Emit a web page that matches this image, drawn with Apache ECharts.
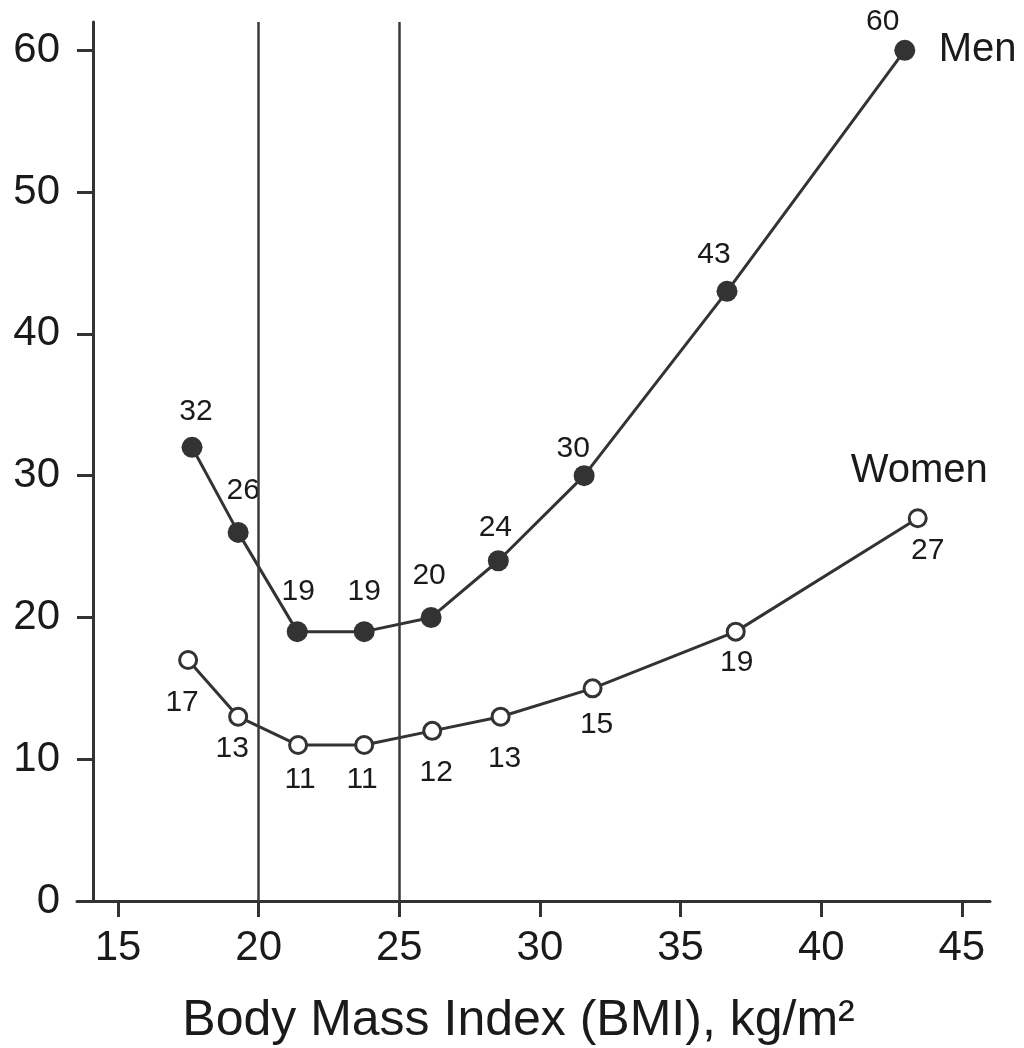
<!DOCTYPE html>
<html>
<head>
<meta charset="utf-8">
<script src="https://cdn.jsdelivr.net/npm/echarts@6/dist/echarts.min.js"></script>
<style>
  html, body { margin: 0; padding: 0; background: #ffffff; }
  #chart { width: 1024px; height: 1048px; }
</style>
</head>
<body>
<div id="chart"></div>
<script>
// Mean BMI of each group and its rate
const bmiMen = [17.63, 19.27, 21.37, 23.75, 26.13, 28.52, 31.57, 36.65, 42.97];
const rateMen = [32, 26, 19, 19, 20, 24, 30, 43, 60];
const bmiWomen = [17.49, 19.27, 21.4, 23.75, 26.17, 28.6, 31.87, 36.96, 43.43];
const rateWomen = [17, 13, 11, 11, 12, 13, 15, 19, 27];
// Tick values on the BMI axis
const bmiTicks = [15, 20, 25, 30, 35, 40, 45];
// Reference BMI bounds drawn as vertical rules
const bmiBounds = [20, 25];
const seriesNames = ['Men', 'Women'];

// Where each value label sits relative to its marker (px)
const menLabelShift = [[4, -36], [5, -42], [1, -40], [0, -40], [-2, -42], [-3, -33], [-11, -27], [-13, -37], [-22, -29]];
const womenLabelShift = [[-6, 43], [-6, 32], [2, 35], [-2, 35], [4, 42], [4, 42], [4, 36], [1, 31], [10, 33]];

const ink = '#333333';
const textInk = '#1a1a1a';
const font = '"Liberation Sans", Arial, Helvetica, sans-serif';

function points(xs, ys, shifts) {
  return xs.map((x, i) => ({
    value: [x, ys[i]],
    label: { offset: shifts[i] }
  }));
}

const chart = echarts.init(document.getElementById('chart'), null, { renderer: 'canvas' });

chart.setOption({
  animation: false,
  backgroundColor: '#ffffff',
  grid: { left: 77, right: 34, top: 22, bottom: 147, containLabel: false, outerBoundsMode: 'none' },
  xAxis: {
    type: 'value',
    min: 13.54,
    max: 46,
    splitLine: { show: false },
    axisLine: { show: true, lineStyle: { color: ink, width: 3 } },
    axisTick: { show: true, length: 16, customValues: bmiTicks, lineStyle: { color: ink, width: 3 } },
    axisLabel: {
      color: textInk, fontSize: 42, fontFamily: font, margin: 26,
      customValues: bmiTicks
    },
    name: 'Body Mass Index (BMI), kg/m²',
    nameLocation: 'middle',
    nameGap: 95,
    nameTextStyle: { color: textInk, fontSize: 50, fontFamily: font, padding: [0, 30, 0, 0] }
  },
  yAxis: {
    type: 'value',
    min: 0,
    max: 62,
    interval: 10,
    offset: -16,
    splitLine: { show: false },
    axisLine: { show: true, lineStyle: { color: ink, width: 3 } },
    axisTick: { show: true, length: 16, lineStyle: { color: ink, width: 3 } },
    axisLabel: {
      color: textInk, fontSize: 42, fontFamily: font, margin: 33,
      showMaxLabel: false,
      formatter: v => (v % 10 === 0 ? String(v) : '')
    }
  },
  series: [
    {
      name: seriesNames[0],
      type: 'line',
      data: points(bmiMen, rateMen, menLabelShift),
      symbol: 'circle',
      symbolSize: 21,
      lineStyle: { color: ink, width: 3 },
      itemStyle: { color: ink, borderColor: ink, borderWidth: 0 },
      label: {
        show: true, position: 'inside',
        formatter: p => String(p.value[1]),
        color: textInk, fontSize: 30, fontFamily: font
      },
      endLabel: {
        show: true, formatter: p => p.seriesName, distance: 34,
        color: textInk, fontSize: 40, fontFamily: font
      },
      markLine: {
        silent: true,
        symbol: ['none', 'none'],
        label: { show: false },
        lineStyle: { color: '#3a3a3a', width: 2.5, type: 'solid' },
        data: bmiBounds.map(b => ({ xAxis: b }))
      },
      z: 3
    },
    {
      name: seriesNames[1],
      type: 'line',
      data: points(bmiWomen, rateWomen, womenLabelShift),
      symbol: 'circle',
      symbolSize: 17,
      lineStyle: { color: ink, width: 3 },
      itemStyle: { color: '#ffffff', borderColor: ink, borderWidth: 3 },
      label: {
        show: true, position: 'inside',
        formatter: p => String(p.value[1]),
        color: textInk, fontSize: 30, fontFamily: font
      },
      endLabel: {
        show: true, formatter: p => p.seriesName, distance: 0,
        offset: [-67, -47],
        color: textInk, fontSize: 40, fontFamily: font
      },
      z: 3
    }
  ]
});
</script>
</body>
</html>
